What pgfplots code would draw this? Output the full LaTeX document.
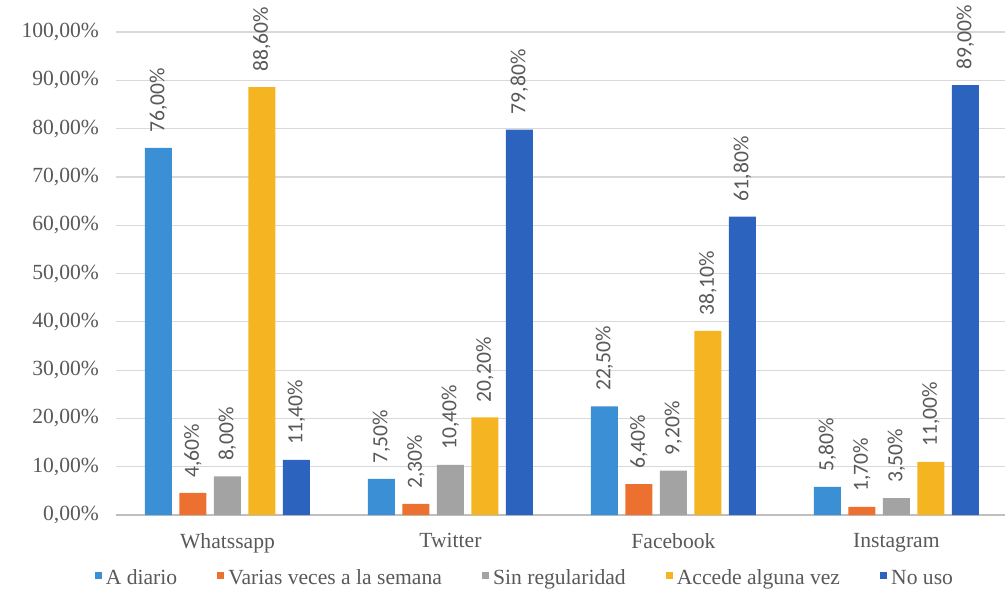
\documentclass[border=0pt]{standalone}
\usepackage{pgfplots}
\pgfplotsset{compat=1.18}
\usepackage{fontspec}
\setmainfont{Liberation Serif}
\newfontfamily\lblfont{Carlito}

\definecolor{cA}{HTML}{3B8FD4}
\definecolor{cB}{HTML}{EC7030}
\definecolor{cC}{HTML}{A3A3A3}
\definecolor{cD}{HTML}{F5B523}
\definecolor{cE}{HTML}{2C63BF}
\definecolor{txt}{HTML}{595959}
\definecolor{gridc}{HTML}{D9D9D9}
\definecolor{axc}{HTML}{BFBFBF}

\begin{document}
\begin{tikzpicture}
\begin{axis}[
  name=ax,
  scale only axis,
  width=444.5pt, height=241.5pt,
  ybar=3.75pt, bar width=13.5pt,
  xmin=-0.5, xmax=3.487, ymin=0, ymax=100,
  xtick={0,1,2,3},
  xticklabels={Whatssapp,Twitter,Facebook,Instagram},
  ytick={0,10,...,100},
  ymajorgrids,
  grid style={draw=gridc, line width=0.6pt},
  axis x line*=bottom, axis y line*=left,
  y axis line style={draw=none},
  x axis line style={draw=axc, line width=0.8pt},
  major tick length=0pt,
  tick label style={font=\rmfamily\fontsize{10.8}{13}\selectfont, text=txt},
  xticklabel style={yshift=-5.5pt},
  yticklabel style={xshift=-5pt},
  /pgf/number format/assume math mode=true,
  yticklabel={\pgfmathprintnumber[fixed,fixed zerofill,precision=2,use comma]{\tick}\%},
  clip=false,
  nodes near coords={\pgfmathprintnumber[fixed,fixed zerofill,precision=2,use comma]{\pgfplotspointmeta}\%},
  nodes near coords style={rotate=90, anchor=west, inner xsep=7.5pt, inner ysep=0pt,
    font=\lblfont\fontsize{10.8}{13}\selectfont, text=txt},
  legend columns=5,
  legend style={at={(0.461,-0.132)}, anchor=center, draw=none, fill=none,
    font=\rmfamily\fontsize{10.8}{13}\selectfont, text=txt,
    /tikz/every even column/.append style={column sep=18pt}},
  legend image code/.code={\fill[#1] (0pt,-0.2pt) rectangle (3.6pt,3.4pt);},
]
\addplot[fill=cA, draw=none] coordinates {(0,76.00) (1,7.50) (2,22.50) (3,5.80)};
\addlegendentry{A diario}
\addplot[fill=cB, draw=none] coordinates {(0,4.60) (1,2.30) (2,6.40) (3,1.70)};
\addlegendentry{Varias veces a la semana}
\addplot[fill=cC, draw=none] coordinates {(0,8.00) (1,10.40) (2,9.20) (3,3.50)};
\addlegendentry{Sin regularidad}
\addplot[fill=cD, draw=none] coordinates {(0,88.60) (1,20.20) (2,38.10) (3,11.00)};
\addlegendentry{Accede alguna vez}
\addplot[fill=cE, draw=none] coordinates {(0,11.40) (1,79.80) (2,61.80) (3,89.00)};
\addlegendentry{No uso}
\end{axis}
\pgfresetboundingbox
\path ([shift={(-58pt,-43pt)}]ax.south west) rectangle ([shift={(0pt,16pt)}]ax.north east);
\end{tikzpicture}
\end{document}
